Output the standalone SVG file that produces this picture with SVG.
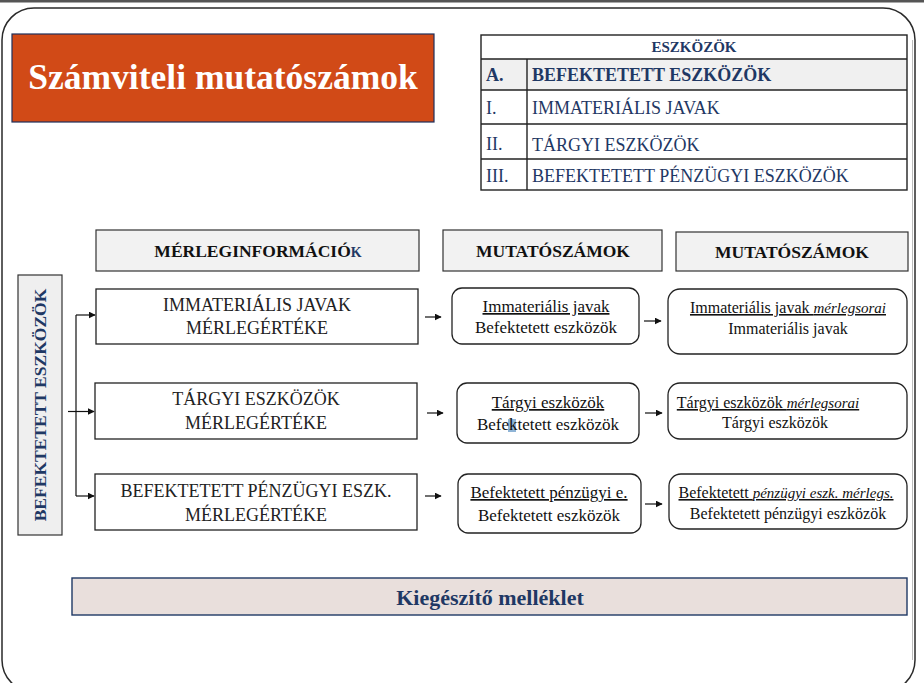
<svg xmlns="http://www.w3.org/2000/svg" width="924" height="683" viewBox="0 0 924 683">
  <defs>
    <marker id="arrow" viewBox="0 0 10 10" refX="9" refY="5" markerWidth="7" markerHeight="7" markerUnits="userSpaceOnUse" orient="auto">
      <path d="M0,0 L10,5 L0,10 z" fill="#111"/>
    </marker>
    <style>
      text { font-family: "Liberation Serif", "DejaVu Serif", serif; }
      .frame { fill: #fff; stroke: #2a2a2a; stroke-width: 1.5; }
      .hdr { fill: #f2f2f2; stroke: #333; stroke-width: 1.2; }
      .hdr-t { font-size: 17.5px; font-weight: bold; fill: #111; text-anchor: middle; }
      .box { fill: #fff; stroke: #222; stroke-width: 1.3; }
      .box-t { font-size: 18px; fill: #222; text-anchor: middle; }
      .rbox { fill: #fff; stroke: #222; stroke-width: 1.3; }
      .mid-t { font-size: 17px; fill: #111; text-anchor: middle; }
      .rgt-t { font-size: 16px; fill: #111; text-anchor: middle; }
      .tbl { fill: none; stroke: #222; stroke-width: 1.4; }
      .tbl-t { font-size: 18px; fill: #1f3864; }
      .tbl-h { font-size: 15px; font-weight: bold; fill: #1f3864; text-anchor: middle; }
      .conn { fill: none; stroke: #111; stroke-width: 1.2; }
      .u { text-decoration: underline; }
    </style>
  </defs>

  <!-- page frame -->
  <rect x="0" y="0" width="924" height="2.5" fill="#555"/>
  <rect class="frame" x="2" y="8" width="913" height="684" rx="32" ry="32"/>
  <line x1="912.5" y1="40" x2="912.5" y2="660" stroke="#bbb" stroke-width="1"/>

  <!-- title -->
  <g id="title">
    <rect x="12" y="34" width="422" height="88" fill="#d14a17" stroke="#1f2f5a" stroke-width="1.2"/>
    <text x="223" y="89" font-size="35.5" font-weight="bold" fill="#fff" text-anchor="middle">Számviteli mutatószámok</text>
  </g>

  <!-- balance sheet table -->
  <g id="asset-table">
    <rect x="481" y="59" width="426" height="31" fill="#f0f0f0"/>
    <rect class="tbl" x="481" y="35" width="426" height="155"/>
    <line class="tbl" x1="481" y1="59" x2="907" y2="59"/>
    <line class="tbl" x1="481" y1="90" x2="907" y2="90"/>
    <line class="tbl" x1="481" y1="124" x2="907" y2="124"/>
    <line class="tbl" x1="481" y1="159" x2="907" y2="159"/>
    <line class="tbl" x1="527" y1="59" x2="527" y2="190"/>
    <text class="tbl-h" x="694" y="52">ESZKÖZÖK</text>
    <text class="tbl-t" x="486" y="81" font-weight="bold">A.</text>
    <text class="tbl-t" x="532" y="81" font-weight="bold">BEFEKTETETT ESZKÖZÖK</text>
    <text class="tbl-t" x="486" y="114">I.</text>
    <text class="tbl-t" x="532" y="114">IMMATERIÁLIS JAVAK</text>
    <text class="tbl-t" x="486" y="150">II.</text>
    <text class="tbl-t" x="532" y="151">TÁRGYI ESZKÖZÖK</text>
    <text class="tbl-t" x="486" y="182">III.</text>
    <text class="tbl-t" x="532" y="182">BEFEKTETETT PÉNZÜGYI ESZKÖZÖK</text>
  </g>

  <!-- column headers -->
  <g id="hdr-merleg">
    <rect class="hdr" x="96" y="230" width="323" height="41"/>
    <text class="hdr-t" x="258" y="257">MÉRLEGINFORMÁCIÓ<tspan font-size="14" fill="#1f3864">K</tspan></text>
  </g>
  <g id="hdr-mutato-1">
    <rect class="hdr" x="443" y="230" width="219" height="41"/>
    <text class="hdr-t" x="553" y="257">MUTATÓSZÁMOK</text>
  </g>
  <g id="hdr-mutato-2">
    <rect class="hdr" x="676" y="232" width="232" height="39"/>
    <text class="hdr-t" x="792" y="258">MUTATÓSZÁMOK</text>
  </g>

  <!-- vertical source label -->
  <g id="befektetett">
    <rect x="18" y="275" width="44" height="260" fill="#efefef" stroke="#333" stroke-width="1.2"/>
    <text transform="translate(46,405) rotate(-90)" font-size="17.5" font-weight="bold" fill="#1f3864" text-anchor="middle">BEFEKTETETT ESZKÖZÖK</text>
  </g>

  <!-- balance sheet values -->
  <g id="m-immat">
    <rect class="box" x="96" y="289" width="322" height="55"/>
    <text class="box-t" x="257" y="311">IMMATERIÁLIS JAVAK</text>
    <text class="box-t" x="257" y="334">MÉRLEGÉRTÉKE</text>
  </g>
  <g id="m-targyi">
    <rect class="box" x="95" y="383" width="322" height="56"/>
    <text class="box-t" x="256" y="405">TÁRGYI ESZKÖZÖK</text>
    <text class="box-t" x="256" y="429">MÉRLEGÉRTÉKE</text>
  </g>
  <g id="m-penzugyi">
    <rect class="box" x="95" y="474" width="322" height="56"/>
    <text class="box-t" x="256" y="497">BEFEKTETETT PÉNZÜGYI ESZK.</text>
    <text class="box-t" x="256" y="521">MÉRLEGÉRTÉKE</text>
  </g>

  <!-- first ratio column -->
  <g id="r1-immat">
    <rect class="rbox" x="452" y="288" width="187" height="56" rx="10"/>
    <text class="mid-t u" x="546" y="312">Immateriális javak</text>
    <text class="mid-t" x="546" y="333">Befektetett eszközök</text>
  </g>
  <g id="r1-targyi">
    <rect class="rbox" x="457" y="383" width="182" height="60" rx="10"/>
    <text class="mid-t u" x="548" y="408">Tárgyi eszközök</text>
    <rect x="508" y="419" width="8" height="13" fill="#8fb4d6"/>
    <text class="mid-t" x="548" y="430">Befektetett eszközök</text>
  </g>
  <g id="r1-penzugyi">
    <rect class="rbox" x="458" y="474" width="183" height="59" rx="10"/>
    <text class="mid-t u" x="549" y="498">Befektetett pénzügyi e.</text>
    <text class="mid-t" x="549" y="521">Befektetett eszközök</text>
  </g>

  <!-- second ratio column -->
  <g id="r2-immat">
    <rect class="rbox" x="668" y="289" width="239" height="65" rx="12"/>
    <text class="rgt-t u" x="788" y="313">Immateriális javak <tspan font-style="italic" font-size="15">mérlegsorai</tspan></text>
    <text class="rgt-t" x="788" y="334">Immateriális javak</text>
  </g>
  <g id="r2-targyi">
    <rect class="rbox" x="668" y="383" width="239" height="56" rx="12"/>
    <text class="rgt-t u" x="768" y="408">Tárgyi eszközök <tspan font-style="italic" font-size="15">mérlegsorai</tspan></text>
    <text class="rgt-t" x="775" y="428">Tárgyi eszközök</text>
  </g>
  <g id="r2-penzugyi">
    <rect class="rbox" x="669" y="474" width="238" height="55" rx="12"/>
    <text class="rgt-t u" x="786" y="498">Befektetett <tspan font-style="italic" font-size="15">pénzügyi eszk. mérlegs.</tspan></text>
    <text class="rgt-t" x="788" y="519">Befektetett pénzügyi eszközök</text>
  </g>

  <!-- supplementary notes -->
  <g id="kiegeszito">
    <rect x="72" y="578" width="835" height="37" fill="#e9dfdc" stroke="#1f3864" stroke-width="1.4"/>
    <text x="490" y="605" font-size="22" font-weight="bold" fill="#1f3864" text-anchor="middle">Kiegészítő melléklet</text>
  </g>

  <!-- connectors -->
  <g id="connectors">
    <polyline class="conn" points="68,411.5 76,411.5"/>
    <line class="conn" x1="76" y1="315" x2="76" y2="496"/>
    <line class="conn" x1="76" y1="315" x2="95" y2="315" marker-end="url(#arrow)"/>
    <line class="conn" x1="76" y1="411.5" x2="94" y2="411.5" marker-end="url(#arrow)"/>
    <line class="conn" x1="76" y1="496" x2="94" y2="496" marker-end="url(#arrow)"/>
    <line class="conn" x1="425" y1="317" x2="441" y2="317" marker-end="url(#arrow)"/>
    <line class="conn" x1="427" y1="413" x2="443" y2="413" marker-end="url(#arrow)"/>
    <line class="conn" x1="425" y1="496" x2="441" y2="496" marker-end="url(#arrow)"/>
    <line class="conn" x1="644" y1="321" x2="661" y2="321" marker-end="url(#arrow)"/>
    <line class="conn" x1="645" y1="413" x2="662" y2="413" marker-end="url(#arrow)"/>
    <line class="conn" x1="645" y1="504" x2="662" y2="504" marker-end="url(#arrow)"/>
  </g>
</svg>
